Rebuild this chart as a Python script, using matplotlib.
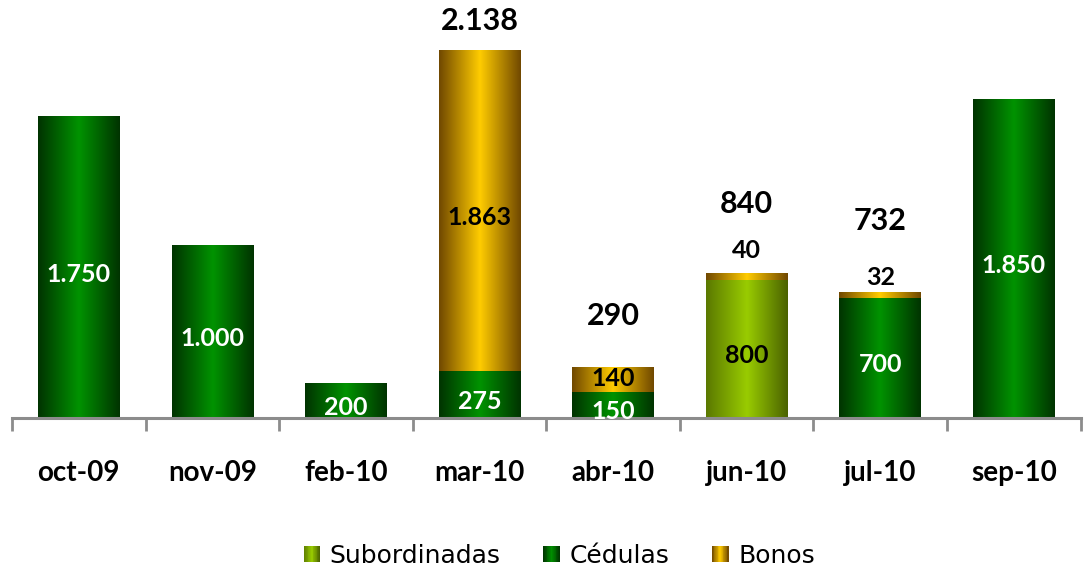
import numpy as np
import matplotlib.pyplot as plt
from matplotlib.patches import Rectangle
from matplotlib.legend_handler import HandlerBase
from matplotlib.colors import LinearSegmentedColormap

plt.rcParams['font.family'] = ['Lato', 'DejaVu Sans']

# datos
meses = ['oct-09', 'nov-09', 'feb-10', 'mar-10', 'abr-10', 'jun-10', 'jul-10', 'sep-10']
subordinadas = [0, 0, 0, 0, 0, 800, 0, 0]
cedulas = [1750, 1000, 200, 275, 150, 0, 700, 1850]
bonos = [0, 0, 0, 1863, 140, 40, 32, 0]

def fmt(v):
    return '{:,}'.format(v).replace(',', '.')

# gradientes horizontales: borde oscuro, centro claro
grad = {
    'Subordinadas': ['#5a7800', '#99cc00', '#4a6200'],
    'Cédulas': ['#003300', '#009300', '#003300'],
    'Bonos': ['#704800', '#ffcc00', '#704800'],
}
cmaps = {k: LinearSegmentedColormap.from_list(k, v) for k, v in grad.items()}
g = np.linspace(0, 1, 256).reshape(1, -1)

fig = plt.figure(figsize=(10.86, 5.66), dpi=100)
ax = fig.add_axes([0.011, 0.2615, 0.984, 0.72])

x = np.arange(len(meses))
w = 0.61
ymax = 2369

def gradbar(ax, xc, y0, h, name):
    if h <= 0:
        return
    ax.imshow(g, cmap=cmaps[name], aspect='auto', interpolation='bilinear',
              extent=(xc - w / 2, xc + w / 2, y0, y0 + h), zorder=2)

bottom = np.zeros(len(meses))
for name, vals in [('Subordinadas', subordinadas), ('Cédulas', cedulas), ('Bonos', bonos)]:
    for i, v in enumerate(vals):
        gradbar(ax, x[i], bottom[i], v, name)
    bottom = bottom + np.array(vals)

ax.set_xlim(-0.5, len(meses) - 0.5)
ax.set_ylim(0, ymax)

# etiquetas dentro de las barras
fs_in = 18
for i in range(len(meses)):
    c = cedulas[i]
    s = subordinadas[i]
    b = bonos[i]
    if s > 0:
        ax.text(x[i], s / 2 - 35, fmt(s), ha='center', va='center', fontsize=fs_in,
                fontweight='bold', color='black', zorder=3)
    if c > 0:
        ax.text(x[i], s + c / 2 - 40, fmt(c), ha='center', va='center', fontsize=fs_in,
                fontweight='bold', color='white', zorder=3)
    if b > 100:
        dy = -40 if b > 500 else 12
        ax.text(x[i], s + c + b / 2 + dy, fmt(b), ha='center', va='center', fontsize=fs_in,
                fontweight='bold', color='black', zorder=3)

# pequeños bonos encima de la barra
bono_off = {5: 134, 6: 82}
for i, dy in bono_off.items():
    t = subordinadas[i] + cedulas[i] + bonos[i]
    ax.text(x[i], t + dy, fmt(bonos[i]), ha='center', va='center', fontsize=fs_in,
            fontweight='bold', color='black')

# totales
tot_off = {3: 169, 4: 303, 5: 402, 6: 414}
for i, dy in tot_off.items():
    t = subordinadas[i] + cedulas[i] + bonos[i]
    ax.text(x[i], t + dy, fmt(t), ha='center', va='center', fontsize=22,
            fontweight='bold', color='black')

# ejes
for sp in ['top', 'right', 'left']:
    ax.spines[sp].set_visible(False)
ax.spines['bottom'].set_color('#8c8c8c')
ax.spines['bottom'].set_linewidth(2.2)
ax.set_yticks([])
ax.set_xticks(x)
ax.set_xticklabels(meses, fontsize=20, fontweight='bold')
ax.tick_params(axis='x', which='major', length=0, pad=30)
ax.set_xticks(np.arange(-0.5, len(meses)), minor=True)
ax.tick_params(axis='x', which='minor', length=9, width=2, color='#8c8c8c', direction='out')

# leyenda con gradiente
class HandlerGrad(HandlerBase):
    def __init__(self, name):
        super().__init__()
        self.name = name

    def create_artists(self, legend, orig_handle, xdescent, ydescent, width, height, fontsize, trans):
        arts = []
        n = 20
        cm = cmaps[self.name]
        for k in range(n):
            r = Rectangle((-xdescent + width * k / n, -ydescent), width / n + 0.3, height,
                          facecolor=cm((k + 0.5) / n), edgecolor='none', transform=trans)
            arts.append(r)
        return arts

names = ['Subordinadas', 'Cédulas', 'Bonos']
handles = [Rectangle((0, 0), 1, 1, label=n) for n in names]
fig.legend(handles, names, loc='center', bbox_to_anchor=(0.515, 0.018), ncol=3,
           frameon=False, handlelength=0.65, handleheight=0.65,
           handletextpad=0.4, columnspacing=1.7,
           handler_map={h: HandlerGrad(n) for h, n in zip(handles, names)},
           prop={'family': ['DejaVu Sans'], 'size': 18})

fig.savefig('out.png', dpi=100)
